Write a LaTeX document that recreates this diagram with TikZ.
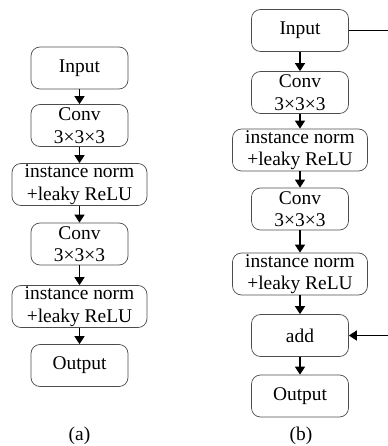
\documentclass[tikz,border=0pt]{standalone}
\usepackage{fontspec}
\setmainfont{Liberation Serif}
\usetikzlibrary{arrows.meta}
\begin{document}
\begin{tikzpicture}[x=1bp,y=-1bp,
  block/.style={draw=black!70, line width=0.7bp, rounded corners=9bp,
    minimum height=42bp, inner sep=0pt, align=center,
    font=\fontsize{19.5}{22.5}\selectfont},
  narrow/.style={block, minimum width=97bp},
  wide/.style={block, minimum width=135bp},
  flow/.style={line width=1.4bp, -{Triangle[length=8bp,width=10bp]}},
  caption/.style={font=\fontsize{19.5}{23}\selectfont}]
\useasboundingbox (0,0) rectangle (387,446);
% (a) plain block
\node[narrow] (ain)   at (79.5,68)  {Input};
\node[narrow] (ac1)   at (79.5,125.5) {Conv\\3×3×3};
\node[wide]   (an1)   at (79.5,184.5) {instance norm\\+leaky ReLU};
\node[narrow] (ac2)   at (79.5,244) {Conv\\3×3×3};
\node[wide]   (an2)   at (79.5,306.5) {instance norm\\+leaky ReLU};
\node[narrow] (aout)  at (79.5,365.5) {Output};
\node[caption] (acap) at (79.5,436) {(a)};
\draw[flow] (ain) -- (ac1);
\draw[flow] (ac1) -- (an1);
\draw[flow] (an1) -- (ac2);
\draw[flow] (ac2) -- (an2);
\draw[flow] (an2) -- (aout);
% (b) residual block
\node[narrow] (bin)   at (300,30.5) {Input};
\node[narrow] (bc1)   at (300,92.5) {Conv\\3×3×3};
\node[wide]   (bn1)   at (300,150)  {instance norm\\+leaky ReLU};
\node[narrow] (bc2)   at (300,209)  {Conv\\3×3×3};
\node[wide]   (bn2)   at (300,274)  {instance norm\\+leaky ReLU};
\node[narrow] (badd)  at (300,335.5) {add};
\node[narrow] (bout)  at (300,396)  {Output};
\node[caption] (bcap) at (301,436) {(b)};
\draw[flow] (bin) -- (bc1);
\draw[flow] (bc1) -- (bn1);
\draw[flow] (bn1) -- (bc2);
\draw[flow] (bc2) -- (bn2);
\draw[flow] (bn2) -- (badd);
\draw[flow] (badd) -- (bout);
% skip connection, its vertical run lies just past the right edge
\coordinate (skip) at (392,0);
\draw[flow] (bin.east) -- (bin.east -| skip) -- (badd.east -| skip) -- (badd.east);
\end{tikzpicture}
\end{document}
